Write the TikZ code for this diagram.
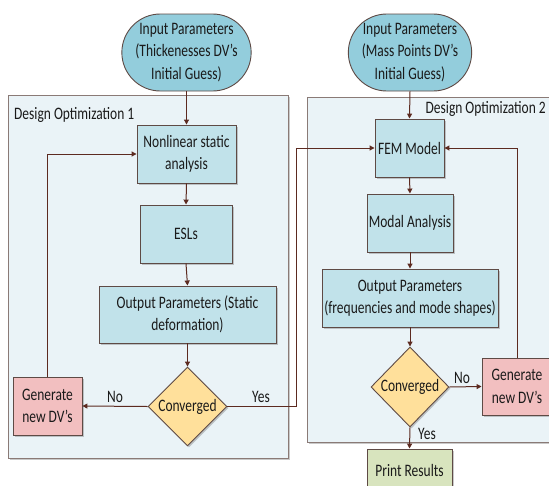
\documentclass[tikz,border=0pt]{standalone}
\usepackage{fontspec}
\setmainfont{Carlito}[FakeStretch=0.77]
\usetikzlibrary{shapes.geometric,shapes.misc,arrows.meta,shadows}
\definecolor{boxfill}{HTML}{C1E2EA}
\definecolor{stadfill}{HTML}{93CDDC}
\definecolor{bgfill}{HTML}{EAF3F7}
\definecolor{bgline}{HTML}{8A7A76}
\definecolor{edge}{HTML}{5E4A45}
\definecolor{arr}{HTML}{5C2A20}
\definecolor{diafill}{HTML}{FFE09B}
\definecolor{genfill}{HTML}{F2BFC0}
\definecolor{prfill}{HTML}{D8E4BE}
\definecolor{txt}{HTML}{1A1A1A}
\tikzset{
  txtfont/.style={font=\fontsize{17.5}{22.5}\selectfont, text=txt, align=center},
  shad/.style={drop shadow={shadow xshift=1.5pt, shadow yshift=-1.5pt, opacity=0.35, fill=black!60}},
  procbox/.style={rectangle, draw=edge, line width=0.9pt, fill=boxfill, inner sep=0pt, txtfont, shad},
  stadium/.style={rounded rectangle, draw=edge, line width=0.9pt, fill=stadfill, inner sep=0pt, txtfont},
  decbox/.style={diamond, draw=edge, line width=0.9pt, fill=diafill, inner sep=0pt, aspect=1, minimum width=79pt, minimum height=79pt, txtfont, shad},
  genbox/.style={rectangle, draw=edge, line width=0.9pt, fill=genfill, inner sep=0pt, txtfont, shad},
  prbox/.style={rectangle, draw=edge, line width=0.9pt, fill=prfill, inner sep=0pt, txtfont, shad},
  bigbox/.style={draw=bgline, line width=1pt, fill=bgfill, shad},
  flow/.style={draw=arr, line width=1pt, -{Triangle[length=5pt,width=5pt]}},
  lbl/.style={txtfont, inner sep=0pt},
}
\begin{document}
\begin{tikzpicture}[x=1pt,y=-1pt]
\useasboundingbox (0,0) rectangle (549,485);
\clip (0,0) rectangle (549,485);
\fill[white] (0,0) rectangle (549,485);
% background panels
\draw[bigbox] (8,95) rectangle (288,458);
\draw[bigbox] (307,97) rectangle (565,442);
\node[lbl, anchor=west] (t1) at (14,115) {Design Optimization 1};
\node[lbl, anchor=east] (t2) at (546,109) {Design Optimization 2};
% left column
\node[stadium, minimum width=117pt, minimum height=77pt] (in1) at (186.5,52.5) {Input Parameters\\(Thickenesses DV’s\\Initial Guess)};
\node[procbox, minimum width=99pt, minimum height=58pt] (nsa) at (186.5,154) {Nonlinear static\\analysis};
\node[procbox, minimum width=92pt, minimum height=58pt] (esl) at (186,234) {ESLs};
\node[procbox, minimum width=177pt, minimum height=57pt] (out1) at (187.5,314.5) {Output Parameters (Static\\deformation)};
\node[decbox] (conv1) at (187.5,406.5) {Converged};
\node[genbox, minimum width=69pt, minimum height=58pt] (gen1) at (47.5,406) {Generate\\new DV’s};
% right column
\node[stadium, minimum width=116pt, minimum height=77pt] (in2) at (410,52.5) {Input Parameters\\(Mass Points DV’s\\Initial Guess)};
\node[procbox, minimum width=69pt, minimum height=58pt] (fem) at (409.5,148) {FEM Model};
\node[procbox, minimum width=86pt, minimum height=58pt] (modal) at (410,223) {Modal Analysis};
\node[procbox, minimum width=176pt, minimum height=58pt] (out2) at (410,298) {Output Parameters\\(frequencies and mode shapes)};
\node[decbox, minimum width=78pt, minimum height=80pt] (conv2) at (410,387) {Converged};
\node[genbox, minimum width=70pt, minimum height=57pt] (gen2) at (517,386.5) {Generate\\new DV’s};
\node[prbox, minimum width=85pt, minimum height=42pt] (pr) at (409.5,470) {Print Results};
\coordinate (j1) at (296,406.5);
% connectors left
\draw[flow] (in1.south) -- (nsa.north);
\draw[flow] (nsa.south) -- (esl.north);
\draw[flow] (esl.south) -- (out1.north);
\draw[flow] (out1.south) -- (conv1.north);
\draw[flow] (conv1.west) -- (gen1.east);
\draw[flow] (gen1.north) |- (nsa.west);
\draw[flow] (conv1.east) -- (j1) |- (fem.west);
\node[lbl] (no1) at (115,397) {No};
\node[lbl] (yes1) at (261,397) {Yes};
% connectors right
\draw[flow] (in2.south) -- (fem.north);
\draw[flow] (fem.south) -- (modal.north);
\draw[flow] (modal.south) -- (out2.north);
\draw[flow] (out2.south) -- (conv2.north);
\draw[flow] (conv2.east) -- (gen2.west);
\draw[flow] (gen2.north) |- (fem.east);
\draw[flow] (conv2.south) -- (pr.north);
\node[lbl] (no2) at (462,378) {No};
\node[lbl] (yes2) at (427,434) {Yes};
\end{tikzpicture}
\end{document}
